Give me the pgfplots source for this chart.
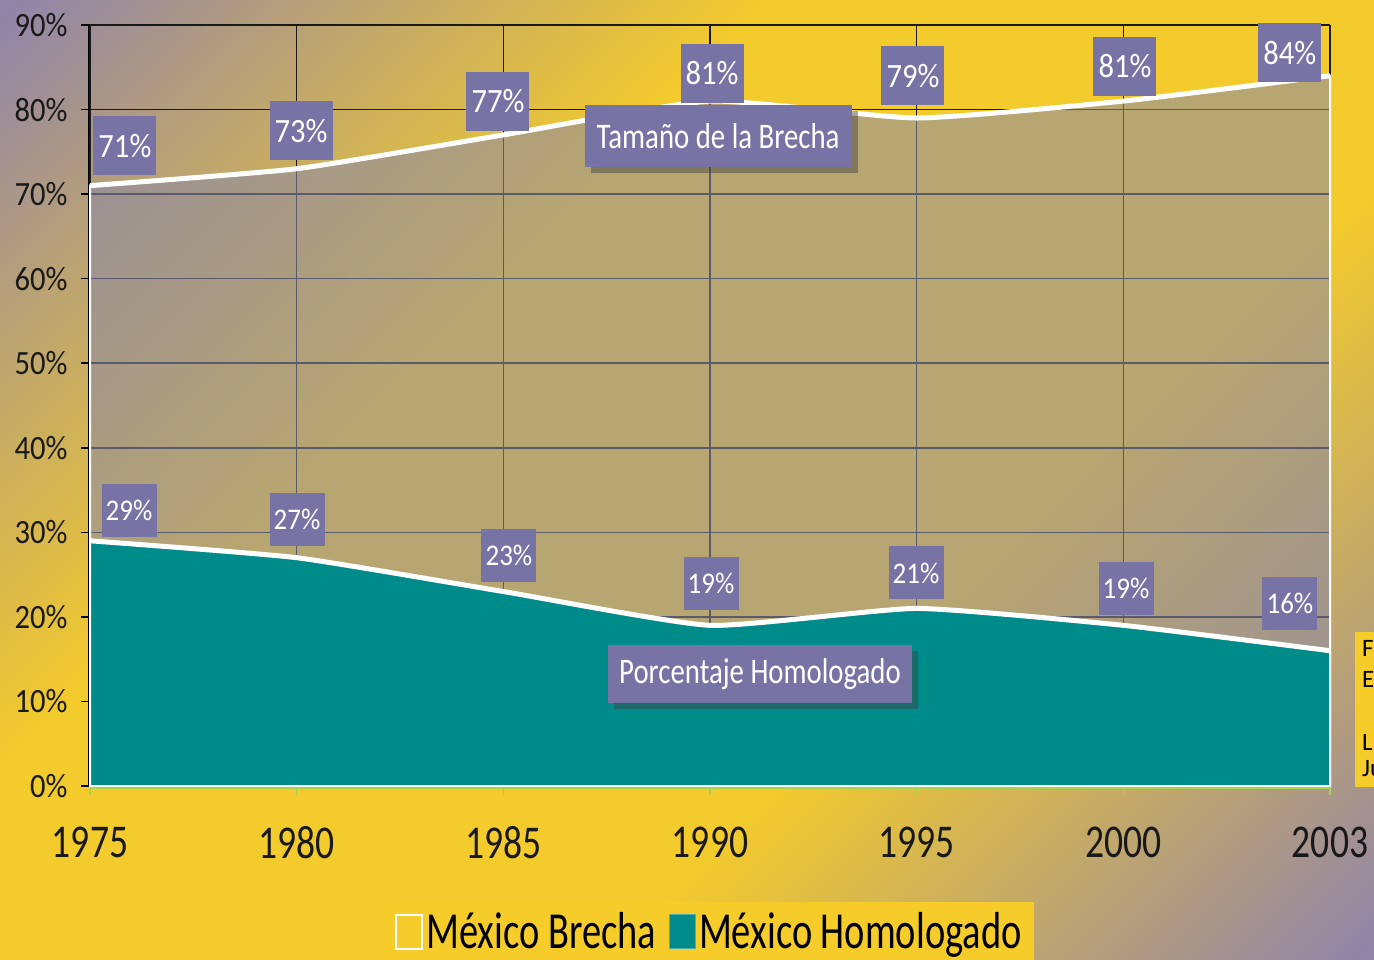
\documentclass[border=0pt]{standalone}
\usepackage{pgfplots}
\pgfplotsset{compat=1.18}
\usepackage{fontspec}
\setmainfont{Carlito}
\newfontfamily\cf{Carlito}[FakeStretch=0.8]
\newfontfamily\cfw{Carlito}[FakeStretch=0.9]
\newfontfamily\cfl{Carlito}[FakeStretch=0.74]
\usetikzlibrary{shadows}

\definecolor{bgpur}{RGB}{145,133,168}
\definecolor{bgyel}{RGB}{243,203,44}
\definecolor{areagray}{RGB}{140,138,165}
\definecolor{tealA}{RGB}{0,139,139}
\definecolor{lbl}{RGB}{120,115,165}
\definecolor{legyel}{RGB}{245,204,42}
\definecolor{tickgreen}{RGB}{170,208,80}

\pgfdeclareverticalshading{bgshade}{100bp}{color(0bp)=(bgpur); color(15bp)=(bgpur); color(38bp)=(bgyel); color(62bp)=(bgyel); color(85bp)=(bgpur); color(100bp)=(bgpur)}

\tikzset{
  pct/.style={fill=lbl, text=white, inner sep=0pt, minimum width=63pt, minimum height=59pt, font=\cfw\fontsize{34}{36}\selectfont},
  pctlow/.style={fill=lbl, text=white, inner sep=0pt, minimum width=55pt, minimum height=53pt, font=\cfw\fontsize{30}{32}\selectfont},
  big/.style={fill=lbl, text=white, inner sep=0pt, font=\cf\fontsize{36}{38}\selectfont,
    drop shadow={shadow xshift=6pt, shadow yshift=-6pt, opacity=0.45, fill=black!75}},
}

\begin{document}
\begin{tikzpicture}[x=1pt,y=1pt]
\shade[shading=bgshade, shading angle=45] (0,0) rectangle (1374,959);
% cut-off note on the right
\fill[legyel] (1355,172) rectangle (1374,327);
\begin{scope}[font=\fontsize{25}{28}\selectfont]
\node[anchor=base west, inner sep=0pt] at (1362,302) {F};
\node[anchor=base west, inner sep=0pt] at (1362,271) {E};
\node[anchor=base west, inner sep=0pt] at (1362,208) {L};
\node[anchor=base west, inner sep=0pt] at (1362,182) {Ju};
\end{scope}

\begin{axis}[
  at={(90pt,173pt)}, anchor=south west,
  scale only axis, width=1240pt, height=761pt,
  xmin=0, xmax=6, ymin=0, ymax=90,
  xtick={0,...,6},
  xticklabels={1975,1980,1985,1990,1995,2000,2003},
  ytick={0,10,...,90},
  yticklabel={\pgfmathprintnumber{\tick}\%},
  /pgf/number format/assume math mode=true,
  grid=major,
  major grid style={black!90, line width=1.6pt},
  axis line style={draw=none},
  tick align=outside,
  xtick pos=bottom, ytick pos=left,
  xtick style={tickgreen, line width=1.5pt},
  ytick style={black, line width=1.5pt},
  major tick length=9pt,
  xticklabel style={font=\cf\fontsize{47}{50}\selectfont, text=black!90, yshift=-28pt},
  yticklabel style={font=\cfw\fontsize{34}{36}\selectfont, text=black!90, xshift=-10pt},
  clip=false,
  legend style={at={(0.5,-0.152)}, anchor=north, fill=legyel, draw=none,
    legend columns=2, font=\cfl\fontsize{52}{55}\selectfont,
    inner xsep=9pt, inner ysep=8pt,
    nodes={inner sep=3pt},
    /tikz/every even column/.append style={column sep=10pt}},
  legend cell align=left,
]
% Brecha
\addplot[forget plot, draw=white, line width=2pt, fill=areagray, fill opacity=0.58, smooth, tension=0.3]
  coordinates {(0,71) (1,73) (2,77) (3,81) (4,79) (5,81) (6,84)} \closedcycle;
\addplot[forget plot, white, line width=5pt, smooth, tension=0.3]
  coordinates {(0,71) (1,73) (2,77) (3,81) (4,79) (5,81) (6,84)};
% Homologado
\addplot[forget plot, draw=white, line width=2pt, fill=tealA, smooth, tension=0.3]
  coordinates {(0,29) (1,27) (2,23) (3,19) (4,21) (5,19) (6,16)} \closedcycle;
\addplot[forget plot, white, line width=5pt, smooth, tension=0.3]
  coordinates {(0,29) (1,27) (2,23) (3,19) (4,21) (5,19) (6,16)};

% axis edges
\draw[tickgreen, line width=2pt] ([yshift=-1.5pt]axis cs:0,0) -- ([yshift=-1.5pt]axis cs:6,0);
\draw[black, line width=1.6pt] ([xshift=-1.5pt]axis cs:0,0) -- ([xshift=-1.5pt]axis cs:0,90);

% value labels
\node[pct] at (axis cs:0.169,75.7) {71\%};
\node[pct] at (axis cs:1.021,77.5) {73\%};
\node[pct] at (axis cs:1.974,81.0) {77\%};
\node[pct] at (axis cs:3.010,84.3) {81\%};
\node[pct] at (axis cs:3.982,84.0) {79\%};
\node[pct] at (axis cs:5.008,85.1) {81\%};
\node[pct] at (axis cs:5.806,86.7) {84\%};

\node[pctlow] at (axis cs:0.189,32.6) {29\%};
\node[pctlow] at (axis cs:1.002,31.5) {27\%};
\node[pctlow] at (axis cs:2.027,27.3) {23\%};
\node[pctlow] at (axis cs:3.005,24.0) {19\%};
\node[pctlow] at (axis cs:3.997,25.2) {21\%};
\node[pctlow] at (axis cs:5.013,23.4) {19\%};
\node[pctlow] at (axis cs:5.806,21.6) {16\%};

\node[big, minimum width=267pt, minimum height=62pt] at (axis cs:3.039,76.9) {Tamaño de la Brecha};
\node[big, minimum width=304pt, minimum height=58pt] at (axis cs:3.242,13.25) {Porcentaje Homologado};

\addlegendimage{legend image code/.code={\draw[white, line width=2pt] (0pt,-17pt) rectangle (26pt,17pt);}}
\addlegendentry{México Brecha}
\addlegendimage{legend image code/.code={\draw[fill=tealA, draw=tealA!70!white, line width=1pt] (0pt,-17pt) rectangle (26pt,17pt);}}
\addlegendentry{México Homologado}
\end{axis}
\pgfresetboundingbox
\useasboundingbox (0,0) rectangle (1374,959);
\end{tikzpicture}
\end{document}
